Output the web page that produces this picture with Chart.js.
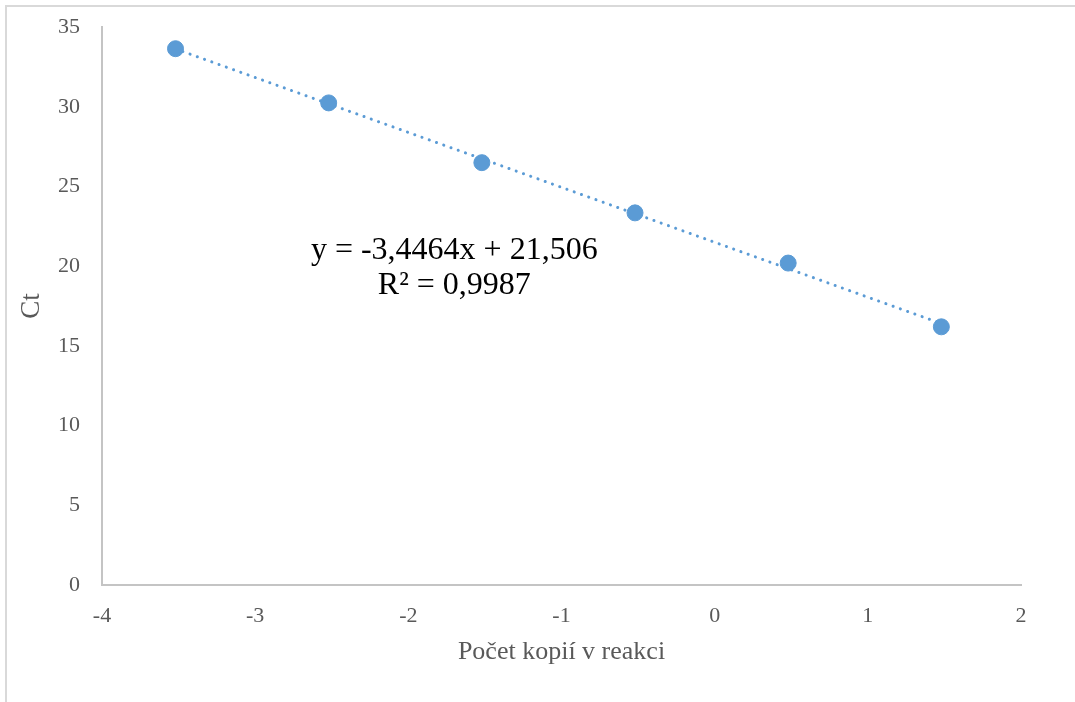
<!DOCTYPE html>
<html>
<head>
<meta charset="utf-8">
<script src="https://cdn.jsdelivr.net/npm/chart.js@4/dist/chart.umd.min.js"></script>
<style>
    html, body { margin: 0; padding: 0; background: #fff; overflow: hidden; }
    #wrap { position: relative; width: 1075px; height: 702px; }
    #frame {
        position: absolute; left: 5px; top: 5px; width: 1100px; height: 730px;
        border: 2px solid #d9d9d9; box-sizing: border-box;
    }
    canvas { position: absolute; left: 0; top: 0; }
</style>
</head>
<body>
<div id="wrap">
    <div id="frame"></div>
    <canvas id="chart" width="1075" height="702"></canvas>
</div>
<script>
// Data
const logCopies = [-3.52, -2.52, -1.52, -0.52, 0.48, 1.48];
const ctValues = [33.65, 30.25, 26.5, 23.35, 20.2, 16.2];

// Trendline as printed on the chart
const slope = -3.4464;
const intercept = 21.506;
const rSquared = '0,9987';

const xTicks = [-4, -3, -2, -1, 0, 1, 2];
const yTicks = [0, 5, 10, 15, 20, 25, 30, 35];

const blue = '#5b9bd5';
const grey = '#595959';

const points = logCopies.map((x, i) => ({ x: x, y: ctValues[i] }));
const xMin = Math.min(...logCopies);
const xMax = Math.max(...logCopies);
const trend = [
    { x: xMin, y: slope * xMin + intercept },
    { x: xMax, y: slope * xMax + intercept }
];

const fmt = n => String(n).replace('.', ',');

// Equation label
const equationLabel = {
    id: 'equationLabel',
    afterDatasetsDraw(chart) {
        const ctx = chart.ctx;
        const x = chart.scales.x.getPixelForValue(-1.7);
        const y = chart.scales.y.getPixelForValue(21.0);
        ctx.save();
        ctx.fillStyle = '#000';
        ctx.font = '32px "Liberation Serif"';
        ctx.textAlign = 'center';
        ctx.textBaseline = 'middle';
        const sign = intercept < 0 ? '-' : '+';
        ctx.fillText('y = ' + fmt(slope) + 'x ' + sign + ' ' + fmt(Math.abs(intercept)), x, y);
        ctx.fillText('R² = ' + rSquared, x, y + 35);
        ctx.restore();
    }
};

new Chart(document.getElementById('chart'), {
    type: 'scatter',
    data: {
        datasets: [
            {
                label: 'Ct',
                data: points,
                backgroundColor: blue,
                borderColor: blue,
                pointRadius: 8,
                pointHoverRadius: 8,
                order: 1
            },
            {
                label: 'Trend',
                type: 'line',
                data: trend,
                borderColor: blue,
                borderWidth: 3,
                borderDash: [0.1, 7.6],
                borderCapStyle: 'round',
                pointRadius: 0,
                fill: false,
                order: 2
            }
        ]
    },
    options: {
        responsive: false,
        animation: false,
        layout: { padding: { left: 12, top: 20, right: 54, bottom: 30 } },
        plugins: {
            legend: { display: false },
            tooltip: { enabled: false }
        },
        scales: {
            x: {
                type: 'linear',
                min: xTicks[0],
                max: xTicks[xTicks.length - 1],
                afterBuildTicks: s => { s.ticks = xTicks.map(v => ({ value: v })); },
                grid: { display: false },
                border: { display: true, color: '#c4c4c4', width: 2 },
                ticks: {
                    color: grey,
                    padding: 10,
                    font: { family: 'Liberation Serif', size: 22 }
                },
                title: {
                    display: true,
                    text: 'Počet kopií v reakci',
                    color: grey,
                    padding: { top: 6 },
                    font: { family: 'Liberation Serif', size: 26 }
                },
                afterFit: s => { s.height = 87; }
            },
            y: {
                min: yTicks[0],
                max: yTicks[yTicks.length - 1],
                afterBuildTicks: s => { s.ticks = yTicks.map(v => ({ value: v })); },
                grid: { display: false },
                border: { display: true, color: '#c4c4c4', width: 2 },
                ticks: {
                    color: grey,
                    padding: 14,
                    font: { family: 'Liberation Serif', size: 22 }
                },
                title: {
                    display: true,
                    text: 'Ct',
                    color: grey,
                    padding: { bottom: 2 },
                    font: { family: 'Liberation Serif', size: 27 }
                },
                afterFit: s => { s.width = 90; }
            }
        }
    },
    plugins: [equationLabel]
});
</script>
</body>
</html>
